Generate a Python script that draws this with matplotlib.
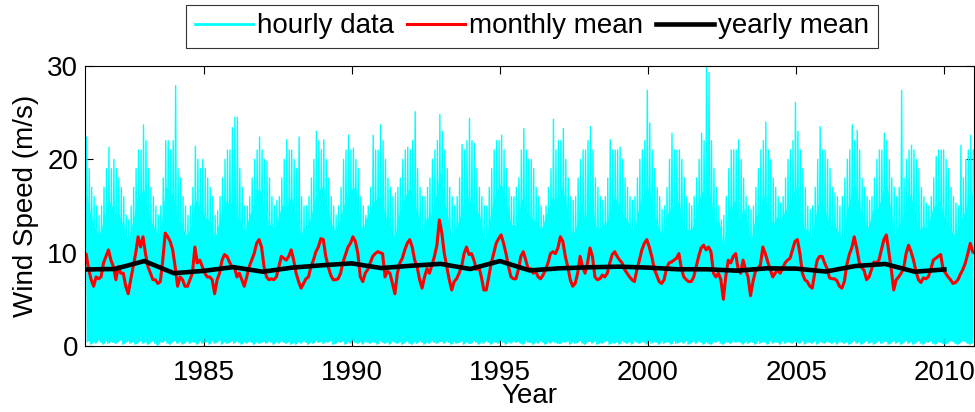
import matplotlib
matplotlib.use('Agg')
import matplotlib.pyplot as plt
import numpy as np

plt.rcParams['font.family'] = ['Liberation Sans', 'DejaVu Sans']
plt.rcParams['font.size'] = 20

start_year = 1981

# monthly mean wind speed (m/s), Jan..Dec for 1981..2010
monthly_mean = [
    9.8, 8.2, 7.1, 6.4, 7.4, 7.2, 7.4, 8.9, 9.6, 10.3, 9.2, 8.5,      # 1981
    7.1, 8.5, 7.8, 7.8, 6.4, 5.6, 7.1, 8.5, 9.9, 11.7, 10.6, 11.7,    # 1982
    9.9, 8.5, 7.8, 7.1, 7.1, 6.7, 6.9, 9.2, 12.1, 11.7, 11.2, 10.3,   # 1983
    8.5, 6.4, 7.4, 7.1, 6.4, 6.4, 7.1, 7.8, 10.6, 8.9, 9.2, 8.5,      # 1984
    7.8, 7.4, 7.4, 7.1, 5.6, 7.1, 7.8, 9.2, 9.8, 9.6, 9.0, 8.5,       # 1985
    8.5, 7.4, 7.8, 7.1, 6.4, 7.4, 8.5, 9.2, 9.9, 11.0, 11.4, 10.6,    # 1986
    8.5, 7.4, 7.1, 7.2, 7.1, 7.4, 8.5, 9.6, 9.4, 9.2, 9.6, 10.3,      # 1987
    9.2, 7.8, 6.9, 6.2, 6.7, 7.2, 7.4, 8.5, 9.2, 10.1, 10.6, 11.5,    # 1988
    11.4, 9.6, 8.5, 7.6, 7.1, 7.1, 7.2, 7.8, 9.0, 9.8, 10.6, 11.0,    # 1989
    11.7, 11.2, 9.9, 7.4, 6.9, 7.8, 8.2, 8.9, 9.6, 9.9, 10.1, 10.0,   # 1990
    9.9, 7.4, 8.0, 7.8, 6.7, 5.6, 7.8, 8.9, 9.4, 10.3, 11.0, 11.4,    # 1991
    10.6, 9.2, 8.5, 7.1, 6.2, 7.4, 8.3, 7.8, 8.7, 9.6, 10.8, 13.5,    # 1992
    12.1, 9.9, 8.5, 7.1, 6.0, 6.9, 7.2, 7.8, 8.5, 9.9, 10.6, 9.8,     # 1993
    9.9, 9.2, 8.2, 8.5, 7.4, 6.0, 6.0, 7.4, 8.9, 9.9, 11.0, 11.5,     # 1994
    11.9, 11.0, 9.9, 8.5, 7.4, 7.2, 7.2, 8.2, 9.6, 10.1, 9.2, 8.2,    # 1995
    8.3, 7.8, 8.0, 7.4, 7.2, 7.6, 8.2, 8.9, 9.9, 10.1, 9.9, 10.5,     # 1996
    11.7, 11.2, 9.6, 8.5, 7.1, 6.4, 6.7, 7.8, 9.6, 8.5, 7.8, 8.9,     # 1997
    10.5, 9.6, 7.4, 7.1, 7.2, 7.6, 7.4, 7.8, 8.9, 9.8, 10.1, 9.6,     # 1998
    9.2, 8.9, 8.2, 7.8, 7.4, 7.1, 6.9, 8.2, 9.2, 10.3, 11.0, 11.4,    # 1999
    10.6, 9.6, 8.3, 7.6, 6.9, 6.7, 7.1, 8.3, 8.9, 9.0, 9.2, 9.4,      # 2000
    9.9, 8.3, 7.4, 7.1, 6.9, 6.9, 7.4, 8.5, 9.6, 10.5, 10.8, 10.3,    # 2001
    10.6, 10.1, 7.8, 7.4, 7.8, 7.1, 5.0, 7.5, 9.2, 8.9, 9.6, 9.9,     # 2002
    8.2, 7.8, 9.2, 8.2, 7.4, 5.4, 6.9, 8.0, 8.3, 8.7, 10.6, 9.9,      # 2003
    9.0, 8.2, 7.4, 7.8, 8.2, 7.8, 8.3, 8.9, 9.2, 9.4, 10.3, 11.2,     # 2004
    11.4, 9.9, 7.8, 7.1, 6.9, 6.4, 6.2, 7.8, 9.2, 9.6, 9.6, 8.9,      # 2005
    8.3, 7.3, 7.2, 7.2, 7.0, 6.4, 6.2, 6.9, 8.7, 9.8, 10.5, 11.7,     # 2006
    10.5, 9.0, 8.4, 8.1, 7.1, 7.4, 8.2, 9.0, 8.9, 9.2, 10.3, 11.4,    # 2007
    11.9, 10.1, 8.2, 6.0, 7.1, 7.4, 7.8, 8.3, 9.9, 10.8, 10.1, 9.2,   # 2008
    8.0, 7.1, 6.8, 7.3, 7.2, 7.4, 8.2, 9.2, 9.4, 9.6, 9.8, 8.2,       # 2009
    7.8, 7.4, 7.1, 6.7, 6.8, 7.1, 7.7, 8.2, 8.9, 9.9, 11.0, 10.1,     # 2010
]

# yearly mean, plotted at the start of each year 1981..2010
years = list(range(1981, 2011))
yearly_mean = [8.2, 8.25, 9.1, 7.8, 8.05, 8.45, 7.96, 8.4, 8.65, 8.85,
               8.35, 8.6, 8.8, 8.25, 9.1, 8.1, 8.32, 8.43, 8.5, 8.4,
               8.22, 8.22, 8.07, 8.32, 8.29, 7.98, 8.57, 8.79, 7.96, 8.2]

# hourly data, summarised per month: highest gust, top of the dense band, lowest value
hourly_max = [
    22.4, 19, 17, 16, 15, 14, 15, 17, 19, 21.3, 19, 20,
    19, 18, 17, 16, 14, 13.5, 15, 17, 19, 21, 21, 23.7,
    22, 19, 17, 16, 15, 14, 15, 18, 22, 22, 21, 22,
    27.9, 19, 18, 16, 15, 14, 15, 17, 21.4, 20, 19, 20,
    19, 18, 17, 16, 14, 14.5, 16, 18, 20, 21, 21, 23.4,
    24.5, 24.5, 19, 17, 15, 15, 16, 18, 20, 21, 22.4, 21,
    20, 19.8, 18, 16, 15, 15.6, 16, 18, 20, 22.1, 21, 21,
    20, 19, 22.4, 16, 15, 15, 16, 18, 20, 23, 22, 21,
    22.1, 20, 18, 16, 15, 14, 15, 17, 20, 21, 22.6, 21,
    21.2, 20, 19, 16, 15, 14, 15, 17, 22.6, 21, 21, 23.7,
    22, 20, 18, 17, 16, 16.4, 17, 18, 20, 21, 21.3, 21,
    22, 25.1, 19, 17, 16, 16, 17, 18, 20, 21, 22, 24.8,
    23, 21, 19, 17, 16, 15, 16, 18, 21.6, 21, 22, 24.4,
    22, 21.7, 19, 17, 16, 15, 15, 17, 19, 21, 22, 22,
    22.6, 21, 19, 17, 16, 16, 17, 18, 21, 23.3, 21, 20,
    20, 19, 17, 16, 15, 14, 15, 17, 19, 24.3, 21, 22,
    22, 23.3, 20, 18, 16, 15.6, 16, 18, 20, 21, 21, 22,
    23.5, 21, 18, 17, 16, 15.6, 16, 18, 22.1, 21, 21, 21,
    21.3, 20, 18, 17, 16, 15.6, 16, 18, 20, 21, 22, 27.4,
    23.9, 21, 19, 17, 16, 14.6, 15, 17, 20, 22.8, 21, 21,
    21, 20, 18, 16, 15.3, 15, 16, 18, 20, 22.8, 22, 29.9,
    29.3, 22, 19, 17, 15, 13.5, 14, 16, 19, 21, 21, 21,
    22.1, 20, 18, 16, 15, 14.6, 15, 17, 19, 21, 22, 24,
    21, 20, 18, 17, 16, 15.3, 16, 18, 20, 21, 22, 26.1,
    23, 21, 19, 17, 15, 14.6, 15, 17, 20, 23.5, 21, 21,
    20, 19, 17, 16.4, 16, 15, 16, 18, 20, 21, 23.7, 22,
    23.1, 21, 18, 17, 16, 15.6, 16, 18, 20, 21, 21, 22.8,
    22, 20, 18, 17, 16, 17, 27.4, 18, 20, 21, 21.5, 21,
    20, 19, 17, 16, 15.3, 15, 16, 18, 20.3, 21, 21, 21,
    20, 19, 17, 16, 15.3, 15, 21.5, 18, 20, 21, 22.6, 21,
]

hourly_dense = [
    16.5, 15, 14, 13, 12.5, 12, 12.5, 13.5, 14.5, 16, 15, 15,
    14, 14.5, 13.5, 13, 12, 11.5, 12.5, 13.5, 15, 16.5, 16, 17,
    16, 14.5, 13.5, 13, 12.5, 12, 12.5, 14, 17, 17, 16.5, 16,
    15, 13, 13.5, 13, 12, 12, 12.5, 13.5, 16, 15, 15, 14.5,
    14, 13.5, 13.5, 13, 11.5, 12.5, 13.5, 14.5, 15.5, 15.5, 15, 15.5,
    16, 14, 13.5, 13, 12, 13, 14, 14.5, 15.5, 16.5, 17, 16,
    14.5, 14, 13, 13, 12.5, 13, 14, 15, 15, 15, 15.5, 16,
    15, 14, 13, 12, 12.5, 13, 13, 14, 15, 16, 16.5, 17,
    17, 15.5, 14.5, 13.5, 12.5, 12.5, 13, 13.5, 15, 15.5, 16.5, 16.5,
    17, 17, 15.5, 13, 12.5, 13.5, 14, 14.5, 15.5, 15.5, 16, 16,
    16, 13.5, 14, 13.5, 12.5, 11.5, 13.5, 14.5, 15, 16, 16.5, 17,
    16.5, 15, 14.5, 13, 12, 13, 14, 13.5, 14.5, 15.5, 16.5, 19,
    18, 15.5, 14.5, 13, 11.5, 12.5, 13, 13.5, 14.5, 15.5, 16.5, 15.5,
    15.5, 15, 14, 14.5, 13, 11.5, 11.5, 13, 14.5, 15.5, 16.5, 17,
    17.5, 16.5, 15.5, 14.5, 13, 13, 13, 14, 15.5, 16, 15, 14,
    14, 13.5, 13.5, 13, 12.5, 13, 14, 14.5, 15.5, 16, 15.5, 16,
    17, 17, 15.5, 14.5, 12.5, 12, 12.5, 13.5, 15.5, 14.5, 13.5, 14.5,
    16, 15.5, 13, 12.5, 12.5, 13, 13, 13.5, 14.5, 15.5, 16, 15.5,
    15, 14.5, 14, 13.5, 13, 12.5, 12.5, 14, 15, 16, 16.5, 17,
    16.5, 15.5, 14, 13.5, 12.5, 12, 12.5, 14, 14.5, 15, 15, 15.5,
    15.5, 14, 13, 12.5, 12.5, 12.5, 13, 14.5, 15.5, 16.5, 16.5, 16,
    16.5, 16, 13.5, 13, 13.5, 12.5, 10.5, 12.5, 15, 14.5, 15.5, 15.5,
    14, 13.5, 15, 14, 13, 11, 12.5, 14, 14, 14.5, 16.5, 15.5,
    15, 14, 13, 13.5, 14, 13.5, 14, 14.5, 15, 15.5, 16, 17,
    17, 15.5, 13.5, 12.5, 12.5, 12, 11.5, 13.5, 15, 15.5, 15.5, 14.5,
    14, 13, 13, 13, 12.5, 12, 11.5, 12.5, 14.5, 15.5, 16.5, 17.5,
    16.5, 15, 14, 14, 12.5, 13, 14, 15, 14.5, 15, 16, 17,
    17.5, 16, 14, 11.5, 12.5, 13, 13.5, 14, 15.5, 16.5, 16, 15,
    14, 12.5, 12.5, 13, 12.5, 13, 14, 15, 15, 15.5, 15.5, 14,
    13.5, 13, 12.5, 12, 12, 12.5, 13.5, 14, 14.5, 15.5, 17, 16,
]

hourly_min = [
    0.4, 0.6, 0.2, 0.5, 0.3, 0.7, 0.4, 0.2, 0.6, 0.3, 0.5, 0.4,
    0.3, 0.5, 0.7, 0.2, 0.4, 0.6, 0.3, 0.5, 0.2, 0.4, 0.6, 0.3,
    0.5, 0.2, 0.4, 0.6, 0.3, 0.1, 0.5, 0.4, 0.7, 0.3, 0.2, 0.5,
    0.6, 0.3, 0.5, 0.2, 0.4, 0.6, 0.3, 0.5, 0.4, 0.2, 0.6, 0.3,
    0.4, 0.5, 0.2, 0.6, 0.3, 0.4, 0.7, 0.2, 0.5, 0.3, 0.4, 0.6,
    0.3, 0.6, 0.4, 0.2, 0.5, 0.3, 0.6, 0.4, 0.2, 0.5, 0.3, 0.4,
    0.5, 0.3, 0.6, 0.4, 0.2, 0.5, 0.3, 0.6, 0.4, 0.3, 0.5, 0.2,
    0.4, 0.2, 0.5, 0.3, 0.6, 0.4, 0.2, 0.5, 0.3, 0.6, 0.4, 0.5,
    0.3, 0.5, 0.4, 0.6, 0.2, 0.3, 0.5, 0.4, 0.6, 0.2, 0.5, 0.3,
    0.6, 0.4, 0.3, 0.5, 0.2, 0.6, 0.4, 0.3, 0.5, 0.4, 0.2, 0.6,
    0.4, 0.3, 0.5, 0.2, 0.6, 0.4, 0.3, 0.5, 0.2, 0.4, 0.6, 0.3,
    0.2, 0.5, 0.3, 0.6, 0.4, 0.2, 0.5, 0.3, 0.6, 0.4, 0.3, 0.5,
    0.5, 0.3, 0.6, 0.4, 0.2, 0.5, 0.3, 0.4, 0.6, 0.2, 0.5, 0.3,
    0.3, 0.6, 0.4, 0.2, 0.5, 0.3, 0.6, 0.4, 0.2, 0.5, 0.4, 0.3,
    0.6, 0.4, 0.2, 0.5, 0.3, 0.6, 0.4, 0.5, 0.3, 0.2, 0.6, 0.4,
    0.4, 0.2, 0.5, 0.3, 0.6, 0.4, 0.2, 0.5, 0.3, 0.6, 0.4, 0.3,
    0.3, 0.5, 0.4, 0.6, 0.2, 0.5, 0.3, 0.4, 0.6, 0.3, 0.2, 0.5,
    0.5, 0.3, 0.6, 0.2, 0.4, 0.3, 0.5, 0.6, 0.2, 0.4, 0.3, 0.5,
    0.2, 0.6, 0.4, 0.3, 0.5, 0.2, 0.6, 0.4, 0.3, 0.5, 0.4, 0.2,
    0.6, 0.3, 0.5, 0.4, 0.2, 0.6, 0.3, 0.5, 0.4, 0.2, 0.6, 0.3,
    0.4, 0.5, 0.3, 0.6, 0.2, 0.4, 0.5, 0.3, 0.6, 0.4, 0.2, 0.5,
    0.3, 0.2, 0.5, 0.4, 0.6, 0.3, 0.2, 0.5, 0.4, 0.3, 0.6, 0.4,
    0.5, 0.4, 0.2, 0.6, 0.3, 0.5, 0.4, 0.2, 0.6, 0.3, 0.5, 0.4,
    0.2, 0.6, 0.3, 0.5, 0.4, 0.2, 0.6, 0.3, 0.5, 0.4, 0.3, 0.6,
    0.4, 0.3, 0.6, 0.2, 0.5, 0.4, 0.3, 0.6, 0.2, 0.5, 0.4, 0.3,
    0.6, 0.4, 0.3, 0.5, 0.2, 0.6, 0.4, 0.3, 0.5, 0.2, 0.4, 0.6,
    0.3, 0.5, 0.2, 0.4, 0.6, 0.3, 0.5, 0.2, 0.4, 0.6, 0.3, 0.5,
    0.5, 0.2, 0.4, 0.6, 0.3, 0.5, 0.2, 0.4, 0.6, 0.3, 0.5, 0.2,
    0.4, 0.6, 0.3, 0.2, 0.5, 0.4, 0.6, 0.3, 0.2, 0.5, 0.4, 0.3,
    0.2, 0.4, 0.6, 0.5, 0.3, 0.2, 0.4, 0.6, 0.5, 0.3, 0.2, 0.4,
]

n = len(monthly_mean)
idx = np.arange(n)
t_mid = start_year + (idx + 0.5) / 12
# hourly trace: each month drawn as a drop to its minimum and a rise to its maximum
t_zig = np.column_stack([start_year + (idx + 0.2) / 12, start_year + (idx + 0.7) / 12]).ravel()
v_zig = np.column_stack([hourly_min, hourly_max]).ravel()

fig = plt.figure(figsize=(9.75, 4.12), dpi=100)
ax = fig.add_axes([85 / 975, 1 - 346 / 412, 889 / 975, 280 / 412])

cyan = '#00FFFF'
ax.fill_between(t_mid, hourly_min, hourly_dense, color=cyan, linewidth=0)
ax.plot(t_zig, v_zig, color=cyan, linewidth=1.0, label='hourly data')
ax.plot(t_mid, monthly_mean, color='#FF0000', linewidth=2.2, label='monthly mean')
ax.plot(years, yearly_mean, color='black', linewidth=3.3, label='yearly mean')

ax.set_xlim(1981, 2011)
ax.set_ylim(0, 30)
ax.set_xticks([1985, 1990, 1995, 2000, 2005, 2010])
ax.set_yticks([0, 10, 20, 30])
ax.tick_params(direction='in', top=True, right=True, length=6, width=0.8, labelsize=20)
ax.tick_params(axis='x', pad=10)
ax.tick_params(axis='y', pad=5)
for s in ax.spines.values():
    s.set_linewidth(0.8)

ax.set_xlabel('Year', fontsize=20, labelpad=-2)
ax.set_ylabel('Wind Speed (m/s)', fontsize=20, labelpad=6)

handles, labels = ax.get_legend_handles_labels()
handles[0] = plt.Line2D([], [], color=cyan, linewidth=2)
leg = fig.legend(handles, labels, loc='upper center', ncol=3,
                 bbox_to_anchor=(532 / 975, 1 - 5 / 412), fontsize=20,
                 frameon=True, fancybox=False, edgecolor='black',
                 handlelength=2.1, handletextpad=0.15, columnspacing=0.45,
                 borderpad=0.3, borderaxespad=0)
leg.get_frame().set_linewidth(0.8)

fig.savefig('out.png', dpi=100)
